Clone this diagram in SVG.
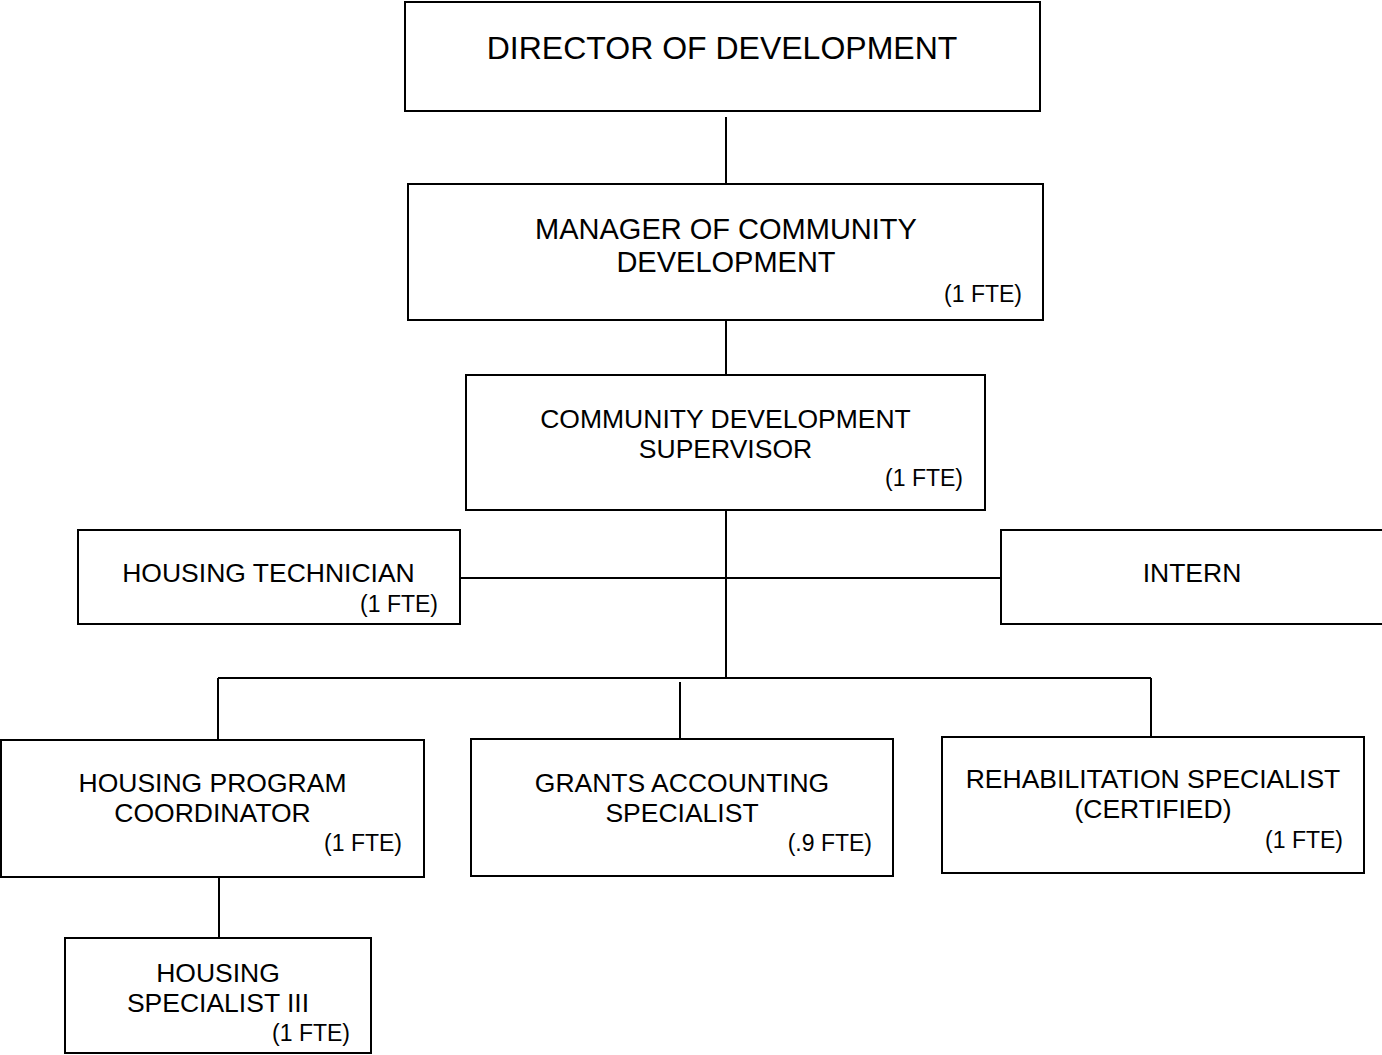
<svg xmlns="http://www.w3.org/2000/svg" width="1382" height="1055" viewBox="0 0 1382 1055">
<style>
.box{fill:#fff;stroke:#000;stroke-width:2}
.t{font-family:"Liberation Sans",Arial,sans-serif;fill:#000;text-anchor:middle;font-size:26.5px}
.big{font-size:32px}
.mid{font-size:29px}
.fte{font-family:"Liberation Sans",Arial,sans-serif;fill:#000;text-anchor:end;font-size:23px}
.c{stroke:#000;stroke-width:2;fill:none}
</style>
<rect width="1382" height="1055" fill="#fff"/>
<g id="connectors">
<line class="c" x1="726" y1="117" x2="726" y2="184"/>
<line class="c" x1="726" y1="320" x2="726" y2="375"/>
<line class="c" x1="726" y1="510" x2="726" y2="678"/>
<line class="c" x1="460" y1="578" x2="1001" y2="578"/>
<line class="c" x1="218" y1="678" x2="1151" y2="678"/>
<line class="c" x1="218" y1="678" x2="218" y2="740"/>
<line class="c" x1="680" y1="682" x2="680" y2="739"/>
<line class="c" x1="1151" y1="678" x2="1151" y2="737"/>
<line class="c" x1="219" y1="877" x2="219" y2="938"/>
</g>
<g id="director">
<rect class="box" x="405" y="2" width="635" height="109"/>
<text class="t big" x="722" y="59">DIRECTOR OF DEVELOPMENT</text>
</g>
<g id="manager">
<rect class="box" x="408" y="184" width="635" height="136"/>
<text class="t mid" x="726" y="239">MANAGER OF COMMUNITY</text>
<text class="t mid" x="726" y="272">DEVELOPMENT</text>
<text class="fte" x="1022" y="302">(1 FTE)</text>
</g>
<g id="supervisor">
<rect class="box" x="466" y="375" width="519" height="135"/>
<text class="t" x="725.5" y="428">COMMUNITY DEVELOPMENT</text>
<text class="t" x="725.5" y="458">SUPERVISOR</text>
<text class="fte" x="963" y="486">(1 FTE)</text>
</g>
<g id="housing-technician">
<rect class="box" x="78" y="530" width="382" height="94"/>
<text class="t" x="268.5" y="582">HOUSING TECHNICIAN</text>
<text class="fte" x="438" y="612">(1 FTE)</text>
</g>
<g id="intern">
<rect class="box" x="1001" y="530" width="384" height="94"/>
<text class="t" x="1192" y="582">INTERN</text>
</g>
<g id="housing-program-coordinator">
<rect class="box" x="1" y="740" width="423" height="137"/>
<text class="t" x="212.5" y="792">HOUSING PROGRAM</text>
<text class="t" x="212.5" y="822">COORDINATOR</text>
<text class="fte" x="402" y="851">(1 FTE)</text>
</g>
<g id="grants-accounting-specialist">
<rect class="box" x="471" y="739" width="422" height="137"/>
<text class="t" x="682" y="792">GRANTS ACCOUNTING</text>
<text class="t" x="682" y="822">SPECIALIST</text>
<text class="fte" x="872" y="851">(.9 FTE)</text>
</g>
<g id="rehabilitation-specialist">
<rect class="box" x="942" y="737" width="422" height="136"/>
<text class="t" x="1153" y="788">REHABILITATION SPECIALIST</text>
<text class="t" x="1153" y="818">(CERTIFIED)</text>
<text class="fte" x="1343" y="848">(1 FTE)</text>
</g>
<g id="housing-specialist-iii">
<rect class="box" x="65" y="938" width="306" height="115"/>
<text class="t" x="218" y="982">HOUSING</text>
<text class="t" x="218" y="1012">SPECIALIST III</text>
<text class="fte" x="350" y="1041">(1 FTE)</text>
</g>
</svg>
